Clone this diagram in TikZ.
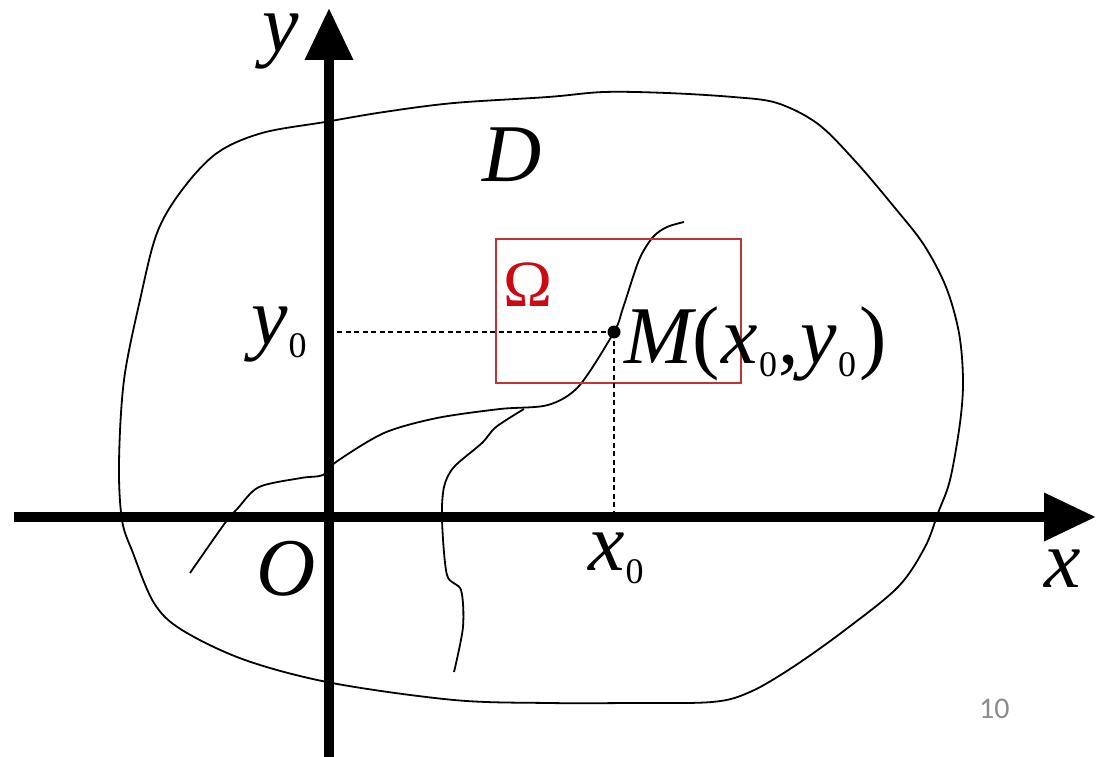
\documentclass[tikz,border=0pt]{standalone}
\usepackage{fontspec}
\setmainfont{Liberation Serif}
\newfontfamily\slidefont{Carlito}
\usetikzlibrary{arrows.meta}
\definecolor{boxred}{RGB}{192,52,52}
\definecolor{omegared}{RGB}{204,10,20}
\definecolor{pagegray}{RGB}{140,140,140}
\newcommand{\bigf}{\fontsize{82}{90}\selectfont}
\newcommand{\subz}{{\upshape\fontsize{36}{40}\selectfont\kern1pt\raisebox{-13pt}{0}\kern1pt}}
\begin{document}
\begin{tikzpicture}[x=1pt,y=-1pt,
  axisline/.style={line width=10pt,-{Triangle[length=52pt,width=46pt]}},
  thinline/.style={line width=1.8pt,line join=round},
  guide/.style={line width=2pt,dash pattern=on 5pt off 3.5pt},
  lbl/.style={inner sep=0pt,anchor=base west,font=\bigf,text height=0.5em}]
\useasboundingbox (0,0) rectangle (1096,757);
\fill[white] (0,0) rectangle (1096,757);
% region D
\draw[thinline] plot[smooth cycle,tension=0.55] coordinates {
 (119,463) (124,380) (140,300) (157,233) (182,190) (217,153) (262,133)
 (325,122) (384,112) (454,103) (548,97) (604,92) (667,93) (733,97)
 (777,103) (818,124) (856,162) (895,208) (924,245) (946,287) (959,333)
 (963,380) (960,423) (950,480) (938,513) (925,547) (898,587) (845,630)
 (793,667) (750,692) (712,702) (630,703) (548,703) (454,700) (332,683)
 (245,660) (182,630) (154,603) (133,553) (122,520)};
% curves
\draw[thinline] plot[smooth,tension=0.5] coordinates {
 (190,573) (225,523) (238,508) (259,487) (301,478) (323,475) (336,462)
 (384,433) (437,418) (500,409) (548,405) (579,386) (614,332) (623,308)
 (639,260) (653,237) (667,227) (684,222)};
\draw[thinline] plot[smooth,tension=0.5] coordinates {
 (524,409) (496,427) (482,443) (454,467) (444,487) (442,520) (447,575)
 (461,590) (463,627) (454,672)};
% Omega box
\node[draw=boxred,line width=2pt,inner sep=0pt,minimum width=245pt,minimum height=144pt,anchor=north west] (box) at (495,238) {};
\node[inner sep=0pt,anchor=base west,text=omegared,font=\fontsize{66}{72}\selectfont] (omega) at (503,306) {Ω};
% point M and guides
\coordinate (M) at (614,332);
\coordinate (yfoot) at (334,332);
\coordinate (xfoot) at (614,512);
\draw[guide] (M) -- (yfoot);
\draw[guide] (M) -- (xfoot);
\fill (M) circle (6.5pt);
% axes
\coordinate (xs) at (14,517);
\coordinate (xe) at (1096,517);
\coordinate (ys) at (329,757);
\coordinate (ye) at (329,8);
\draw[axisline] (xs) -- (xe);
\draw[axisline] (ys) -- (ye);
% labels
\node[lbl] (ylab) at (262,52) {\itshape y};
\node[lbl] (xlab) at (1044,587) {\itshape x};
\node[lbl] (olab) at (256,595) {\itshape O};
\node[lbl] (dlab) at (482,182) {\itshape D};
\node[lbl] (x0lab) at (588,570) {\itshape x\subz};
\node[lbl] (y0lab) at (251,344) {\itshape y\subz};
\node[lbl] (mlab) at (624,363) {\itshape M\upshape(\kern2pt\itshape x\subz\upshape,\kern2pt\itshape y\subz\kern2pt\upshape)};
\node[inner sep=0pt,anchor=base west,text=pagegray,font=\slidefont\fontsize{30}{34}\selectfont] (page) at (979,718) {10};
\end{tikzpicture}
\end{document}
